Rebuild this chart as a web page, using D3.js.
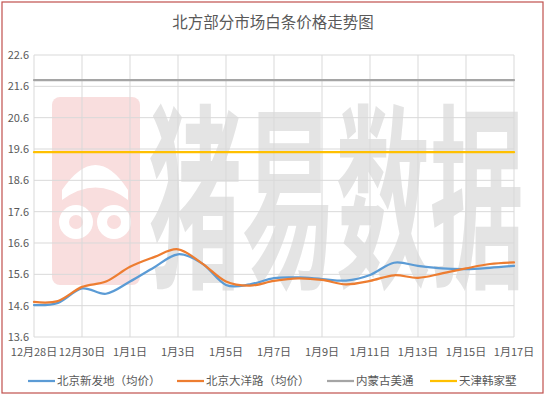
<!DOCTYPE html>
<html>
<head>
<meta charset="utf-8">
<style>
body { margin: 0; background: #fff; }
text { font-family: "Noto Sans CJK SC", "Liberation Sans", sans-serif; }
</style>
</head>
<body>
<svg width="546" height="396"></svg>
<script src="https://cdn.jsdelivr.net/npm/d3@7"></script>
<script>
// dates, one point per day
var days = ["12月28日","12月29日","12月30日","12月31日","1月1日","1月2日","1月3日","1月4日","1月5日","1月6日","1月7日",
            "1月8日","1月9日","1月10日","1月11日","1月12日","1月13日","1月14日","1月15日","1月16日","1月17日"];
var xinfadi = [14.62,14.69,15.15,14.98,15.37,15.82,16.24,15.95,15.26,15.28,15.48,15.5,15.45,15.4,15.58,15.97,15.87,15.79,15.77,15.81,15.87];
var dayanglu = [14.72,14.75,15.2,15.37,15.84,16.15,16.4,15.95,15.37,15.24,15.39,15.47,15.42,15.28,15.39,15.57,15.49,15.63,15.79,15.93,15.98];
var meitong = days.map(function(){ return 21.8; });
var hanjiashu = days.map(function(){ return 19.5; });
var yTicks = [13.6,14.6,15.6,16.6,17.6,18.6,19.6,20.6,21.6,22.6];
var names = ["北京新发地（均价）","北京大洋路（均价）","内蒙古美通","天津韩家墅"];
var colors = ["#5b9bd5","#ed7d31","#a5a5a5","#ffc000"];

var svg = d3.select("svg");

// chart border
svg.append("rect").attr("x",2).attr("y",2).attr("width",541).attr("height",391)
   .attr("fill","none").attr("stroke","#c0504d").attr("stroke-width",1.2);

var x = d3.scalePoint().domain(days).range([34, 514]);
var y = d3.scaleLinear().domain([13.6, 22.6]).range([337, 55]);

// watermark
var wm = svg.append("g");
var pink = "#f9dede";
wm.append("rect").attr("x",52).attr("y",97).attr("width",88).attr("height",188).attr("rx",8)
  .attr("fill",pink);
wm.append("circle").attr("cx",76).attr("cy",222).attr("r",17).attr("fill","#fff");
wm.append("circle").attr("cx",114).attr("cy",222).attr("r",17).attr("fill","#fff");
wm.append("circle").attr("cx",76).attr("cy",222).attr("r",7).attr("fill",pink);
wm.append("circle").attr("cx",114).attr("cy",222).attr("r",7).attr("fill",pink);
wm.append("path").attr("d","M62,190 Q96,140 128,190 L128,200 Q96,175 62,200 Z").attr("fill","#fff");
wm.append("text").attr("transform","translate(148,272) scale(1,2.1)")
  .attr("font-size",94).attr("font-weight","bold").attr("fill","#e4e4e4")
  .text("猪易数据");

// gridlines
svg.append("g").selectAll("line").data(yTicks).enter().append("line")
   .attr("x1",34).attr("x2",514).attr("y1",function(d){return y(d);}).attr("y2",function(d){return y(d);})
   .attr("stroke","#d9d9d9").attr("stroke-width",1);
var xTicks = days.filter(function(d,i){ return i % 2 == 0; });
svg.append("g").selectAll("line").data(xTicks).enter().append("line")
   .attr("x1",function(d){return x(d);}).attr("x2",function(d){return x(d);})
   .attr("y1",y(22.6)).attr("y2",y(13.6))
   .attr("stroke","#d9d9d9").attr("stroke-width",1);

// axis labels
svg.append("g").selectAll("text").data(yTicks).enter().append("text")
   .attr("x",29).attr("y",function(d){return y(d)+4;}).attr("text-anchor","end")
   .attr("font-size",11).attr("fill","#595959").text(function(d){return d.toFixed(1);});
svg.append("g").selectAll("text").data(xTicks).enter().append("text")
   .attr("x",function(d){return x(d);}).attr("y",356).attr("text-anchor","middle")
   .attr("font-size",11).attr("fill","#595959").text(function(d){return d;});

// lines
var line = d3.line().x(function(d,i){return x(days[i]);}).y(function(d){return y(d);})
   .curve(d3.curveCardinal.tension(0));
var series = [xinfadi, dayanglu, meitong, hanjiashu];
[2,3,0,1].forEach(function(k){
  svg.append("path").datum(series[k]).attr("d",line).attr("fill","none")
     .attr("stroke",colors[k]).attr("stroke-width",2.25).attr("stroke-linecap","round");
});

// title
svg.append("text").attr("x",273).attr("y",28).attr("text-anchor","middle")
   .attr("font-size",15.5).attr("fill","#595959").text("北方部分市场白条价格走势图");

// legend
var legX = [28,177,327,430];
var leg = svg.append("g").selectAll("g").data(names).enter().append("g")
   .attr("transform",function(d,i){return "translate("+legX[i]+",381)";});
leg.append("line").attr("x1",0).attr("x2",27).attr("y1",0).attr("y2",0)
   .attr("stroke",function(d,i){return colors[i];}).attr("stroke-width",2.25);
leg.append("text").attr("x",29).attr("y",4).attr("font-size",11.5).attr("fill","#595959")
   .text(function(d){return d;});
</script>
</body>
</html>
